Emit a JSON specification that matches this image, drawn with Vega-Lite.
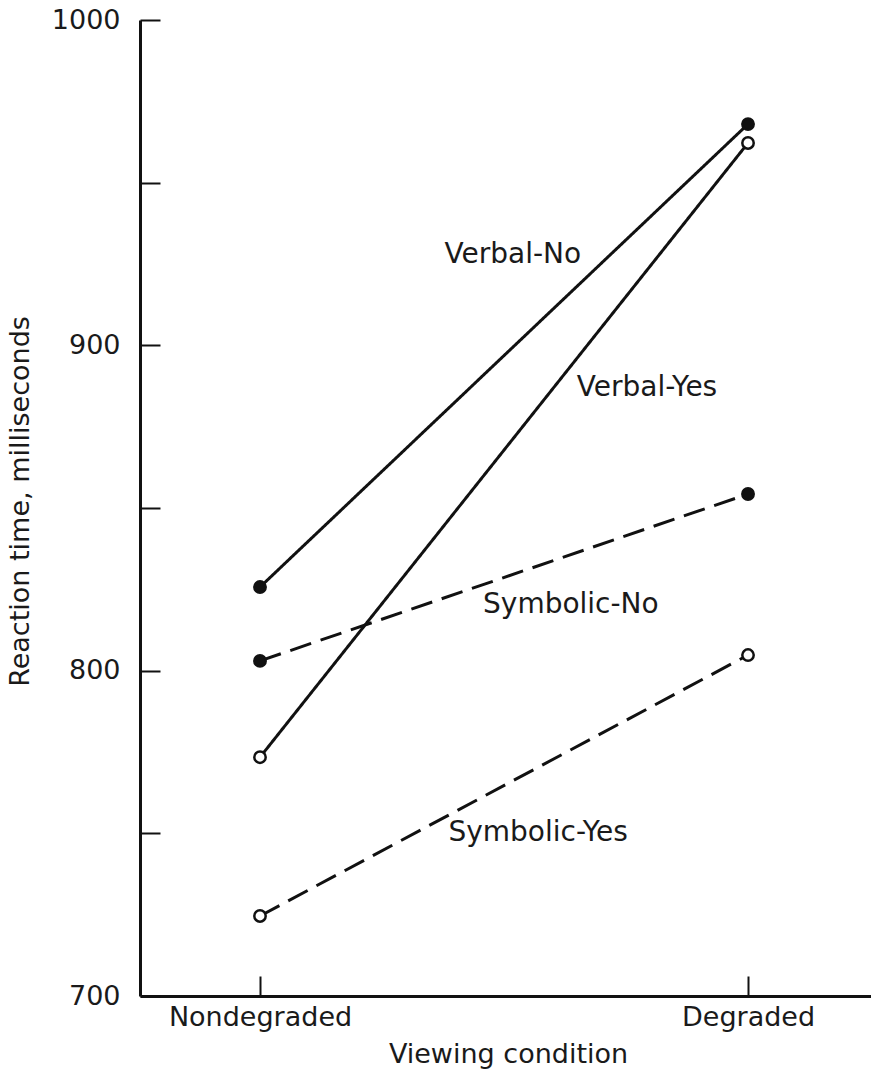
{
  "$schema": "https://vega.github.io/schema/vega-lite/v6.json",
  "width": 731,
  "height": 976,
  "autosize": {"type": "none"},
  "padding": {"left": 140, "top": 20, "right": 0, "bottom": 74},
  "background": "white",
  "config": {
    "view": {"stroke": null},
    "font": "DejaVu Sans",
    "axis": {
      "grid": false,
      "domainColor": "#111",
      "domainWidth": 3,
      "tickColor": "#111",
      "tickWidth": 2,
      "tickSize": -20,
      "labelColor": "#1a1a1a",
      "labelFont": "DejaVu Sans",
      "labelFontSize": 27,
      "labelLimit": 0,
      "titleColor": "#1a1a1a",
      "titleFont": "DejaVu Sans",
      "titleFontSize": 27,
      "titleFontWeight": "normal"
    }
  },
  "datasets": {
    "rt": [
      {"group": "Verbal-No", "code": "Verbal", "response": "No", "condition": "Nondegraded", "viewing": 0, "rt": 825.7},
      {"group": "Verbal-No", "code": "Verbal", "response": "No", "condition": "Degraded", "viewing": 1, "rt": 968},
      {"group": "Verbal-Yes", "code": "Verbal", "response": "Yes", "condition": "Nondegraded", "viewing": 0, "rt": 773.4},
      {"group": "Verbal-Yes", "code": "Verbal", "response": "Yes", "condition": "Degraded", "viewing": 1, "rt": 962.2},
      {"group": "Symbolic-No", "code": "Symbolic", "response": "No", "condition": "Nondegraded", "viewing": 0, "rt": 803},
      {"group": "Symbolic-No", "code": "Symbolic", "response": "No", "condition": "Degraded", "viewing": 1, "rt": 854.3},
      {"group": "Symbolic-Yes", "code": "Symbolic", "response": "Yes", "condition": "Nondegraded", "viewing": 0, "rt": 724.6},
      {"group": "Symbolic-Yes", "code": "Symbolic", "response": "Yes", "condition": "Degraded", "viewing": 1, "rt": 804.8}
    ],
    "labels": [
      {"label": "Verbal-No", "viewing": 0.518, "rt": 927.8},
      {"label": "Verbal-Yes", "viewing": 0.793, "rt": 886.9},
      {"label": "Symbolic-No", "viewing": 0.637, "rt": 820.2},
      {"label": "Symbolic-Yes", "viewing": 0.57, "rt": 750.1}
    ]
  },
  "encoding": {
    "x": {
      "field": "viewing",
      "type": "quantitative",
      "scale": {"domain": [-0.2459, 1.252], "nice": false, "zero": false},
      "axis": {
        "values": [0, 1],
        "labelExpr": "datum.value == 0 ? 'Nondegraded' : 'Degraded'",
        "labelPadding": 28,
        "labelFlush": false,
        "labelOverlap": false,
        "title": "Viewing condition",
        "titleX": 368,
        "titleY": 58,
        "titleAlign": "center",
        "titleBaseline": "middle"
      }
    },
    "y": {
      "field": "rt",
      "type": "quantitative",
      "scale": {"domain": [700, 1000], "nice": false, "zero": false},
      "axis": {
        "values": [700, 750, 800, 850, 900, 950, 1000],
        "format": "d",
        "labelExpr": "datum.value % 100 == 0 ? datum.label : ''",
        "labelPadding": 40,
        "labelOverlap": false,
        "labelFlush": false,
        "title": "Reaction time, milliseconds",
        "titleX": -120,
        "titleY": 481,
        "titleAlign": "center",
        "titleBaseline": "middle"
      }
    }
  },
  "layer": [
    {
      "data": {"name": "rt"},
      "mark": {"type": "line", "color": "#111", "strokeWidth": 3},
      "encoding": {
        "detail": {"field": "group"},
        "strokeDash": {
          "field": "code",
          "type": "nominal",
          "scale": {"domain": ["Verbal", "Symbolic"], "range": [[1, 0], [22, 10]]},
          "legend": null
        }
      }
    },
    {
      "data": {"name": "rt"},
      "mark": {"type": "point", "shape": "circle", "size": 130, "strokeWidth": 2.5, "stroke": "#111", "filled": true, "opacity": 1},
      "encoding": {
        "fill": {
          "field": "response",
          "type": "nominal",
          "scale": {"domain": ["No", "Yes"], "range": ["#111", "white"]},
          "legend": null
        }
      }
    },
    {
      "data": {"name": "labels"},
      "mark": {"type": "text", "fontSize": 28, "font": "DejaVu Sans", "color": "#1a1a1a", "align": "center", "baseline": "middle"},
      "encoding": {
        "text": {"field": "label"}
      }
    }
  ]
}
